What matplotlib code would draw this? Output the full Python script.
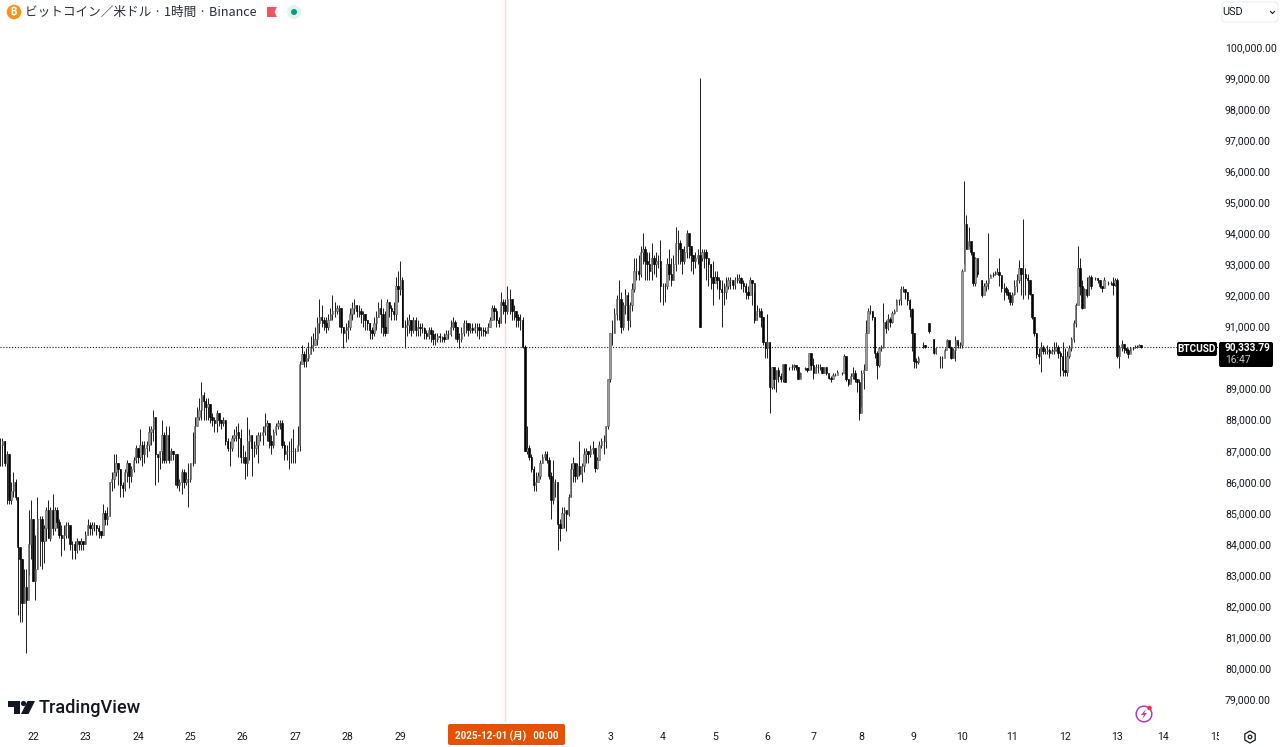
import matplotlib
matplotlib.use("Agg")
from matplotlib import pyplot as plt
from matplotlib.patches import Rectangle, Circle, Polygon, RegularPolygon, FancyBboxPatch
import numpy as np

n = float("nan")

# hourly candles, prices in hundreds of USD, first bar is 15 hours before the "22" tick
close_h = [
    872,873,866,869,854,857,860,855,839,835,821,826,822,840,848,
    828,832,848,848,841,845,851,842,851,845,851,847,843,842,843,846,846,840,840,838,841,840,841,840,
    843,846,845,846,846,845,844,843,850,848,849,860,861,863,866,864,859,858,863,866,862,864,867,871,
    868,872,869,871,872,876,877,881,869,868,870,875,867,875,867,870,869,869,859,860,863,860,861,861,
    866,866,878,881,883,888,886,884,885,881,880,879,882,880,879,880,873,871,871,874,875,876,874,868,
    868,866,873,875,871,871,872,875,875,876,878,879,873,872,876,878,879,879,872,869,870,870,870,870,
    870,872,898,901,899,900,901,903,904,906,911,913,912,911,910,912,914,915,915,916,916,910,908,909,
    910,914,916,917,915,915,914,914,912,911,909,908,911,913,916,914,910,908,918,916,915,914,923,922,
    925,910,910,910.5,912,909,912,909,910,909.5,909.5,908,907,909,907.5,906,906,907,906.5,906.5,906,907.5,907.5,910,
    911.5,910,906,906,908,911,911,909,909.5,909,910,910,909,909,908.5,908,910,912,916,915,912,911,918,917,
    915,919,919,915,915,913,912,912,903.5,870,871,868,864,859,860,862,866,868,869,867,862,854,860,860,
    846.5,845,850,851,849.5,855,864,866,862,865,862.5,865,869,870,869,870.5,871,864.5,867,872,873,873,878,893,
    908,908,914,919,919,910,917,920,912,917,922,928,928,927,934,935,931,930,928,932,930,931,931,923,
    923,923,930,927,925,930,937,937,935,931,934,940,936,933,931,932,933,910,934,934,932,930,926,924,
    926,925,922,921,921,923,925,925,923.5,925,925,925.5,924,923,921,920,925,924,912,915,915,913,905,903,
    905,890.5,897,893,896,894,893,898,892,n,897,897,897.5,897,893,895,n,896.5,896,901.5,897.5,895,897,897,
    897,895,897,895,893.5,893,894.5,894.5,895.5,n,895,900.5,893,891.5,894,895,893,892,882,895,896,908,915,915,
    913,901.5,897.5,903,903.5,911.5,909.5,912.5,911.5,914.5,915,918.5,918.5,922,922,921,918.5,915.5,908,899,898.5,900,n,904,
    903.5,n,908.5,n,901.5,903,n,900,900,902.5,905.5,903.5,900,902.5,905.5,904,904,928,943,935,937.5,934,924,932,
    927,n,920,923,924,925.5,926.5,926.5,927,927.5,926.5,922.5,922.5,921,920,918,920.5,923,925,929,927,927,925.5,925,
    920.5,913,908,901,900.5,903.5,902,902,902.5,901.5,902,902.5,903.5,901.5,900.5,896,895.5,900.5,903,906,911,917,929,923,
    916,922,920,926,923,n,925.5,925,923,922.5,925,n,924,924,923.5,925,900.5,903.5,904.5,903,902.5,901,903,903,903.5,903.5,904,903.5,
]
high_h = [
    874,874,873,870,869,860,863,861,855,839,835,832,832,851,854,
    848,843,855,849,849,846,852,854,852,856,852,852,848,846,846,847,847,846,841,841,842,841,842,841,
    844,848,847,847,847,846,846,844,853,851,852,860,863,869,869,866,864,860,864,867,866,865,868,872,
    871,877,873,873,873,878,878,883,881,869,870,880,876,878,878,871,870,869,869,861,864,864,863,866,
    866,876,881,884,887,892,889,887,887,885,882,881,883,882,880,881,880,874,873,875,877,878,879,877,
    872,870,881,877,875,873,875,876,876,878,882,880,879,875,877,879,880,880,880,873,872,873,874,877,
    871,878,899,904,902,903,905,907,908,910,913,919,917,913,913,914,916,920,918,917,917,916,910,911,
    912,916,918,919,917,917,916,915,914,912,911,910,913,915,918,919,916,915,919,918,917,918,926,928,
    931,926,912,913,914,912,913,913,912,911,911,910,909,910,910,909,908,908,908,907,908,909,909,912,
    913,912,910,908,910,912,912,911,911,911,911,911,911,910,910,910,911,913,917,917,916,913,921,919,
    919,923,922,919,917,915,914,914,913,904,878,872,869,865,863,863,867,869,870,870,868,863,867,861,
    854,848,852,852,851,856,866,868,865,866,873,866,871,871,870,872,873,871,868,873,874,875,878,893,
    908,912,916,920,925,921,918,922,921,918,924,932,932,933,936,940,936,934,934,937,933,934,933,938,
    924,924,932,935,932,933,942,941,938,935,936,941,939,936,933,934,935,990,935,935,935,931,930,931,
    928,928,926,925,924,926,926,926,925,926,927,927,926,925,924,923,926,925,921,917,916,916,913,905,
    914,905,897,897,896,897,895,898,898,n,897,898,898,897,897,895.5,n,897,896.5,901.5,901,900,898,898,
    898,897,897,897,894,894,895,895,896,n,895.5,901,898,893,895,897,896,893,893,896,898,912,916,917,
    915,913,902,903.5,904,917.5,912,914,913,915,915.5,919,919,923,923,922,921,919,916,908,900,900.5,n,905,
    904,n,911,n,906,903.5,n,900.5,900.5,903,906,904,903,903,907,905,905,928.5,957,946,942,937,931,932.5,
    928,n,925,924,925,940,927,927.5,928,929,932,926,924,923,922,921,921,925,927,931.5,929,944.5,929,927,
    925,920.5,913,908,903,905,904,903,904,903,903,905,905,904,902,905,903,902,904,906.5,912,917.5,936,932,
    925,922.5,926,926.5,926.5,n,926,925.5,925,923,926,n,924.5,924.5,926,925.5,925.5,904,905.5,904.5,903,903,903.5,903.5,904,904,904.5,904,
]
low_h = [
    865,865,865,853,853,853,855,854,817,815,815,821,805,830,835,
    828,822,832,833,832,834,841,842,841,843,844,845,842,836,838,842,842,838,835,835,837,838,838,838,
    840,843,843,843,844,843,842,842,843,846,846,849,857,858,862,859,855,855,857,860,858,860,863,866,
    866,867,865,866,868,870,872,873,859,860,864,866,866,866,866,867,867,859,858,857,856,858,859,852,
    860,865,866,878,880,880,880,880,880,879,878,876,876,878,877,878,872,870,865,870,873,873,868,866,
    866,861,862,867,862,868,869,866,873,872,875,873,871,869,871,875,877,877,871,867,867,864,866,866,
    866,870,870,898,897,897,899,901,902,904,904,908,910,909,908,909,912,912,913,914,910,908,903,905,
    906,909,912,914,913,913,911,910,909,909,906,906,907,909,913,908,907,907,908,913,912,912,912,918,
    920,910,903,907,908,907,908,907,907,907,908,906,906,906,905,904,904,905,905,905,905,906,906,907,
    909,906,905,903,905,907,908,907,908,908,908,907,906,907,907,907,908,910,912,912,910,910,911,914,
    911,914,914,912,912,910,910,909,903,870,869,867,863,857,857,860,861,866,867,866,861,848,853,855,
    838,841,845,845,844,849,855,860,860,861,862,860,863,866,866,868,869,863,864,867,871,869,871,877,
    892,904,908,912,912,908,909,914,909,910,915,921,925,925,926,930,925,925,925,925,927,926,929,918,
    917,918,922,925,923,925,928,930,930,927,930,932,932,928,927,929,930,910,931,929,925,923,922,917,
    924,922,919,910,917,919,922,922,922,922,924,924,922,921,919,919,925,917,911,912,913,910,904,900,
    900,882,890,890,889,892,892,892,892,n,896,896,896,896,893,893.5,n,896,895.5,896.5,896,893,895,895,
    896,895,895,894.5,893,892,894,894,895,n,894.5,897,892.5,891,892,893,892,889,880,884,890,896,908,914,
    912,900,893,897,902,903,908,909,910,911,914,917,917,917,921,919,917,913,902,896.5,896.5,898,n,903,
    903,n,908,n,901,901,n,896.5,896.5,902,905,903,899.5,900,899,903,903,903,930,935,936,933,923,923,
    926,n,919.5,921,921.5,922,926,926,926.5,927,923,921,918.5,920,919,917,917,920,921,924,920,919,920,919,
    920,912.5,907,900,898,895.5,901,901,901,900,901,901,902,900,894,894,894,894,900,902,905,910,920,920,
    915.5,916,919.5,920,922,n,925,924,922.5,921,924.5,n,923.5,923.5,920,923,900,896.5,902,901.5,901.5,900,902,902.5,903,903,903.5,903,
]
# bars whose open is not the previous close (index from the first bar)
open_fix = {321: 932, 425: 911, 427: 906, 449: 925}

first_bar = -15
# 90,000.00 sits under the last price label, so it is left out
price_ticks = [79000 + 1000 * i for i in range(22) if i != 11]
day_ticks = [0, 24, 48, 72, 96, 120, 144, 168, 264, 288, 312, 336, 357, 379, 403, 425, 448, 472, 496, 517, 541]
day_labels = ["22", "23", "24", "25", "26", "27", "28", "29", "3", "4", "5", "6", "7", "8", "9", "10", "11", "12", "13", "14", "15"]
crosshair_bar = 216
last_price = 90333.79

W, H = 1280, 747
plt.rcParams["font.family"] = ["Roboto", "DejaVu Sans"]
fig = plt.figure(figsize=(W / 100, H / 100), dpi=100, facecolor="white")
ax = fig.add_axes([0, 25 / H, 1218 / W, 722 / H])
ax.set_xlim(-15.1, 542.1)
ax.set_ylim(78265, 101514)
for s in ax.spines.values():
    s.set_visible(False)

ax.axvline(crosshair_bar, color="#f8ddcc", lw=1.0, zorder=1)
ax.axhline(last_price, color="#131722", lw=0.8, ls=(0, (1, 1.6)), zorder=1)

# build candles
xs = np.arange(len(close_h)) + first_bar
closes = np.array(close_h) * 100
highs = np.array(high_h) * 100
lows = np.array(low_h) * 100
opens = np.empty(len(closes))
for i in range(len(closes)):
    if i in open_fix:
        opens[i] = open_fix[i] * 100
    elif i == 0 or np.isnan(closes[i - 1]):
        opens[i] = closes[i]
    else:
        opens[i] = closes[i - 1]

up = closes >= opens
ok = ~np.isnan(closes)
ax.vlines(xs[ok], lows[ok], highs[ok], color="#1c1c1c", lw=0.7, zorder=2)
ax.bar(xs[ok & up], (closes - opens)[ok & up], bottom=opens[ok & up], width=0.62,
       facecolor="#9a9a9a", edgecolor="#555555", linewidth=0.4, zorder=3)
ax.bar(xs[ok & ~up], (closes - opens)[ok & ~up], bottom=opens[ok & ~up], width=0.72,
       facecolor="black", edgecolor="black", linewidth=0.45, zorder=3)

# axes
ax.yaxis.tick_right()
ax.set_yticks(price_ticks)
ax.set_yticklabels([f"{p:,.2f}" for p in price_ticks], fontsize=7.6, color="#131722", va="center_baseline")
ax.tick_params(axis="y", length=0, pad=5)
ax.set_xticks(day_ticks)
ax.set_xticklabels(day_labels, fontsize=7.6, color="#131722")
ax.tick_params(axis="x", length=0, pad=7.5)
clip = Rectangle((0, 0), 1218.5 / W, 1, transform=fig.transFigure)
ax.get_xticklabels()[-1].set_clip_path(clip)


# overlay in pixel coordinates, y measured from the top
over = fig.add_axes([0, 0, 1, 1], zorder=10)
over.set_xlim(0, W)
over.set_ylim(H, 0)
over.axis("off")
over.patch.set_alpha(0)


def box(x0, y0, x1, y1, color, r=2):
    over.add_patch(FancyBboxPatch((x0 + r, y0 + r), x1 - x0 - 2 * r, y1 - y0 - 2 * r,
                                  boxstyle=f"round,pad={r},rounding_size={r}", fc=color, ec="none"))


# header
over.add_patch(Circle((14, 12), 7.3, fc="#f7931a", ec="none"))
over.text(14, 12, "₿", color="white", fontsize=7, fontweight="bold", ha="center", va="center",
          family=["Inter", "Noto Sans", "Open Sans", "Roboto", "Lato", "Liberation Sans", "DejaVu Sans"])
over.text(25, 12, "ビットコイン／米ドル · 1時間 · Binance", fontsize=9.1, color="#2a2e39",
          ha="left", va="center", family=["Noto Sans CJK JP", "DejaVu Sans"])
over.add_patch(Polygon([(267, 7), (277, 7), (274.5, 12), (277, 17), (267, 17)], fc="#f7525f", ec="none"))
over.add_patch(Circle((294, 12), 7, fc="#dff3ef", ec="none"))
over.add_patch(Circle((294, 12), 3, fc="#089981", ec="none"))

# currency button
over.add_patch(FancyBboxPatch((1224, 4), 52, 16, boxstyle="round,pad=2,rounding_size=3", fc="white", ec="#eceef2", lw=0.8))
over.text(1233, 12, "USD", fontsize=7.8, color="#131722", va="center", ha="center")
over.plot([1270.5, 1272.5, 1274.5], [11.5, 13.5, 11.5], color="#131722", lw=0.8)

# last price labels
box(1177, 342, 1217, 356, "black")
over.text(1197, 349, "BTCUSD", fontsize=7.2, color="white", fontweight="bold", ha="center", va="center")
box(1219, 342, 1273, 367, "black")
over.text(1225, 348, "90,333.79", fontsize=7.3, color="white", fontweight="bold", ha="left", va="center")
over.text(1225, 360, "16:47", fontsize=7.4, color="#c8c8c8", ha="left", va="center")

# crosshair date
box(448, 724, 565, 745, "#e65100")
over.text(506.5, 736.5, "2025-12-01 (月)   00:00", fontsize=7.0, color="white", fontweight="bold", ha="center", va="center",
          family=["Roboto", "Noto Sans CJK JP"])

# TradingView logo
over.add_patch(Polygon([(8, 701), (20, 701), (20, 714), (14, 714), (14, 706.5), (8, 706.5)], fc="#131722", ec="none"))
over.add_patch(Circle((23.5, 703.5), 2.6, fc="#131722", ec="none"))
over.add_patch(Polygon([(27.5, 701), (35, 701), (28.5, 714), (21, 714)], fc="#131722", ec="none"))
over.text(39, 708, "TradingView", fontsize=13.1, color="#131722", fontweight="medium", ha="left", va="center")

# lightning badge
over.add_patch(Circle((1144, 714), 7.8, fc="white", ec="#b23bc6", lw=1.1))
over.add_patch(Polygon([(1146, 709), (1141, 715), (1144, 715), (1142, 719.5), (1147, 713), (1144.2, 713)], fc="#b23bc6", ec="none"))
over.add_patch(Circle((1149.5, 708), 2.3, fc="#f23645", ec="none"))

# settings gear
over.add_patch(RegularPolygon((1250, 737), 6, radius=6, fc="white", ec="#131722", lw=0.9))
over.add_patch(Circle((1250, 737), 1.8, fc="white", ec="#131722", lw=0.9))

fig.savefig("out.png", dpi=100)
